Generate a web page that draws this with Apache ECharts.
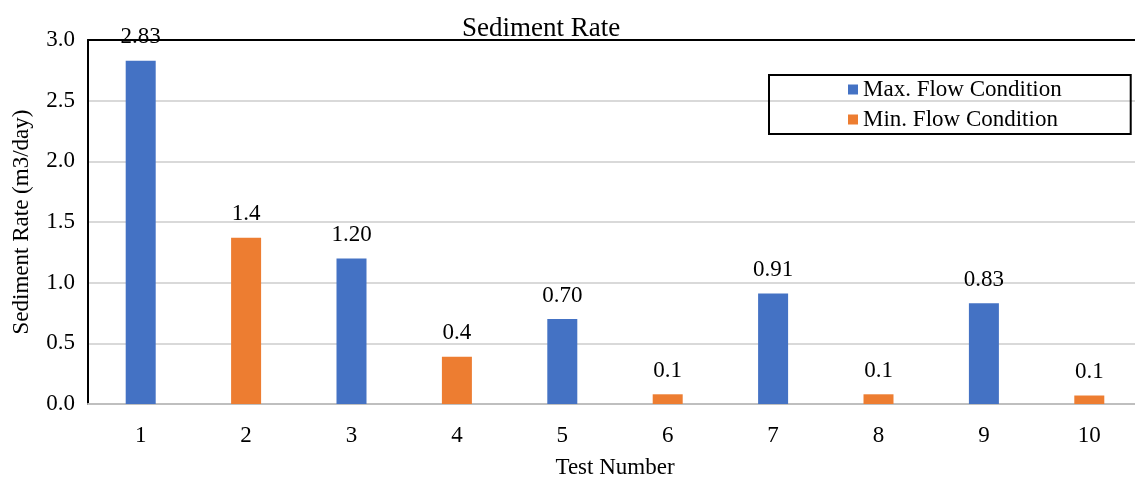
<!DOCTYPE html>
<html><head><meta charset="utf-8">
<script src="https://cdn.jsdelivr.net/npm/echarts@6/dist/echarts.min.js"></script>
<style>html,body{margin:0;padding:0;background:#fff}#c{width:1135px;height:477px}</style>
</head><body><div id="c"></div>
<script>
const categories = ['1','2','3','4','5','6','7','8','9','10'];
const maxFlow = [2.83, '-', 1.20, '-', 0.70, '-', 0.91, '-', 0.83, '-'];
const minFlow = ['-', 1.37, '-', 0.39, '-', 0.08, '-', 0.08, '-', 0.07];
const yTicks = [0, 0.5, 1.0, 1.5, 2.0, 2.5, 3.0];

const FONT = '"Liberation Serif", "Times New Roman", serif';
const FS = 23;
const chart = echarts.init(document.getElementById('c'));
chart.setOption({
  animation: false,
  textStyle: { fontFamily: FONT, color: '#000' },
  title: { text: 'Sediment Rate', left: 457, top: 10,
    textStyle: { fontFamily: FONT, fontSize: 27, fontWeight: 'normal', color: '#000' } },
  legend: {
    orient: 'vertical', left: 769, top: 75,
    padding: [3, 69, 3, 79], itemGap: 7, itemWidth: 10, itemHeight: 10,
    borderColor: '#000', borderWidth: 2, icon: 'rect',
    textStyle: { fontFamily: FONT, fontSize: FS, color: '#000' }
  },
  grid: { left: 88, top: 40, right: -7, bottom: 73, containLabel: false, outerBoundsMode: 'none' },
  xAxis: [{
    type: 'category', data: categories, position: 'bottom',
    name: 'Test Number', nameLocation: 'middle', nameGap: 52,
    nameTextStyle: { fontFamily: FONT, fontSize: FS, color: '#000' },
    axisLine: { lineStyle: { color: '#bfbfbf', width: 2 } },
    axisTick: { show: true, alignWithLabel: true, inside: true, length: 5, lineStyle: { color: '#d9d9d9', width: 2 } },
    axisLabel: { fontFamily: FONT, fontSize: FS, color: '#000', margin: 20 }
  }, {
    type: 'category', data: categories, position: 'top',
    axisLine: { lineStyle: { color: '#000', width: 2 } },
    axisTick: { show: false }, axisLabel: { show: false }
  }],
  yAxis: {
    type: 'value', min: 0, max: 3, interval: 0.5,
    name: 'Sediment Rate (m3/day)', nameLocation: 'middle', nameGap: 55,
    nameTextStyle: { fontFamily: FONT, fontSize: FS, color: '#000' },
    axisLine: { show: true, lineStyle: { color: '#000', width: 2 } },
    axisTick: { show: false },
    splitLine: { lineStyle: { color: '#d9d9d9', width: 2 } },
    axisLabel: { fontFamily: FONT, fontSize: FS, color: '#000', margin: 13,
      formatter: v => v.toFixed(1) }
  },
  series: [{
    name: 'Max. Flow Condition', type: 'bar', data: maxFlow, barWidth: 30, barGap: '-100%',
    itemStyle: { color: '#4472C4' }, z: 1,
    label: { show: true, position: 'top', distance: 12, fontFamily: FONT, fontSize: FS, color: '#000',
      formatter: p => Number(p.value).toFixed(2) }
  }, {
    name: 'Min. Flow Condition', type: 'bar', data: minFlow, barWidth: 30, barGap: '-100%',
    itemStyle: { color: '#ED7D31' }, z: 1,
    label: { show: true, position: 'top', distance: 12, fontFamily: FONT, fontSize: FS, color: '#000',
      formatter: p => Number(p.value).toFixed(1) }
  }]
});
</script></body></html>
